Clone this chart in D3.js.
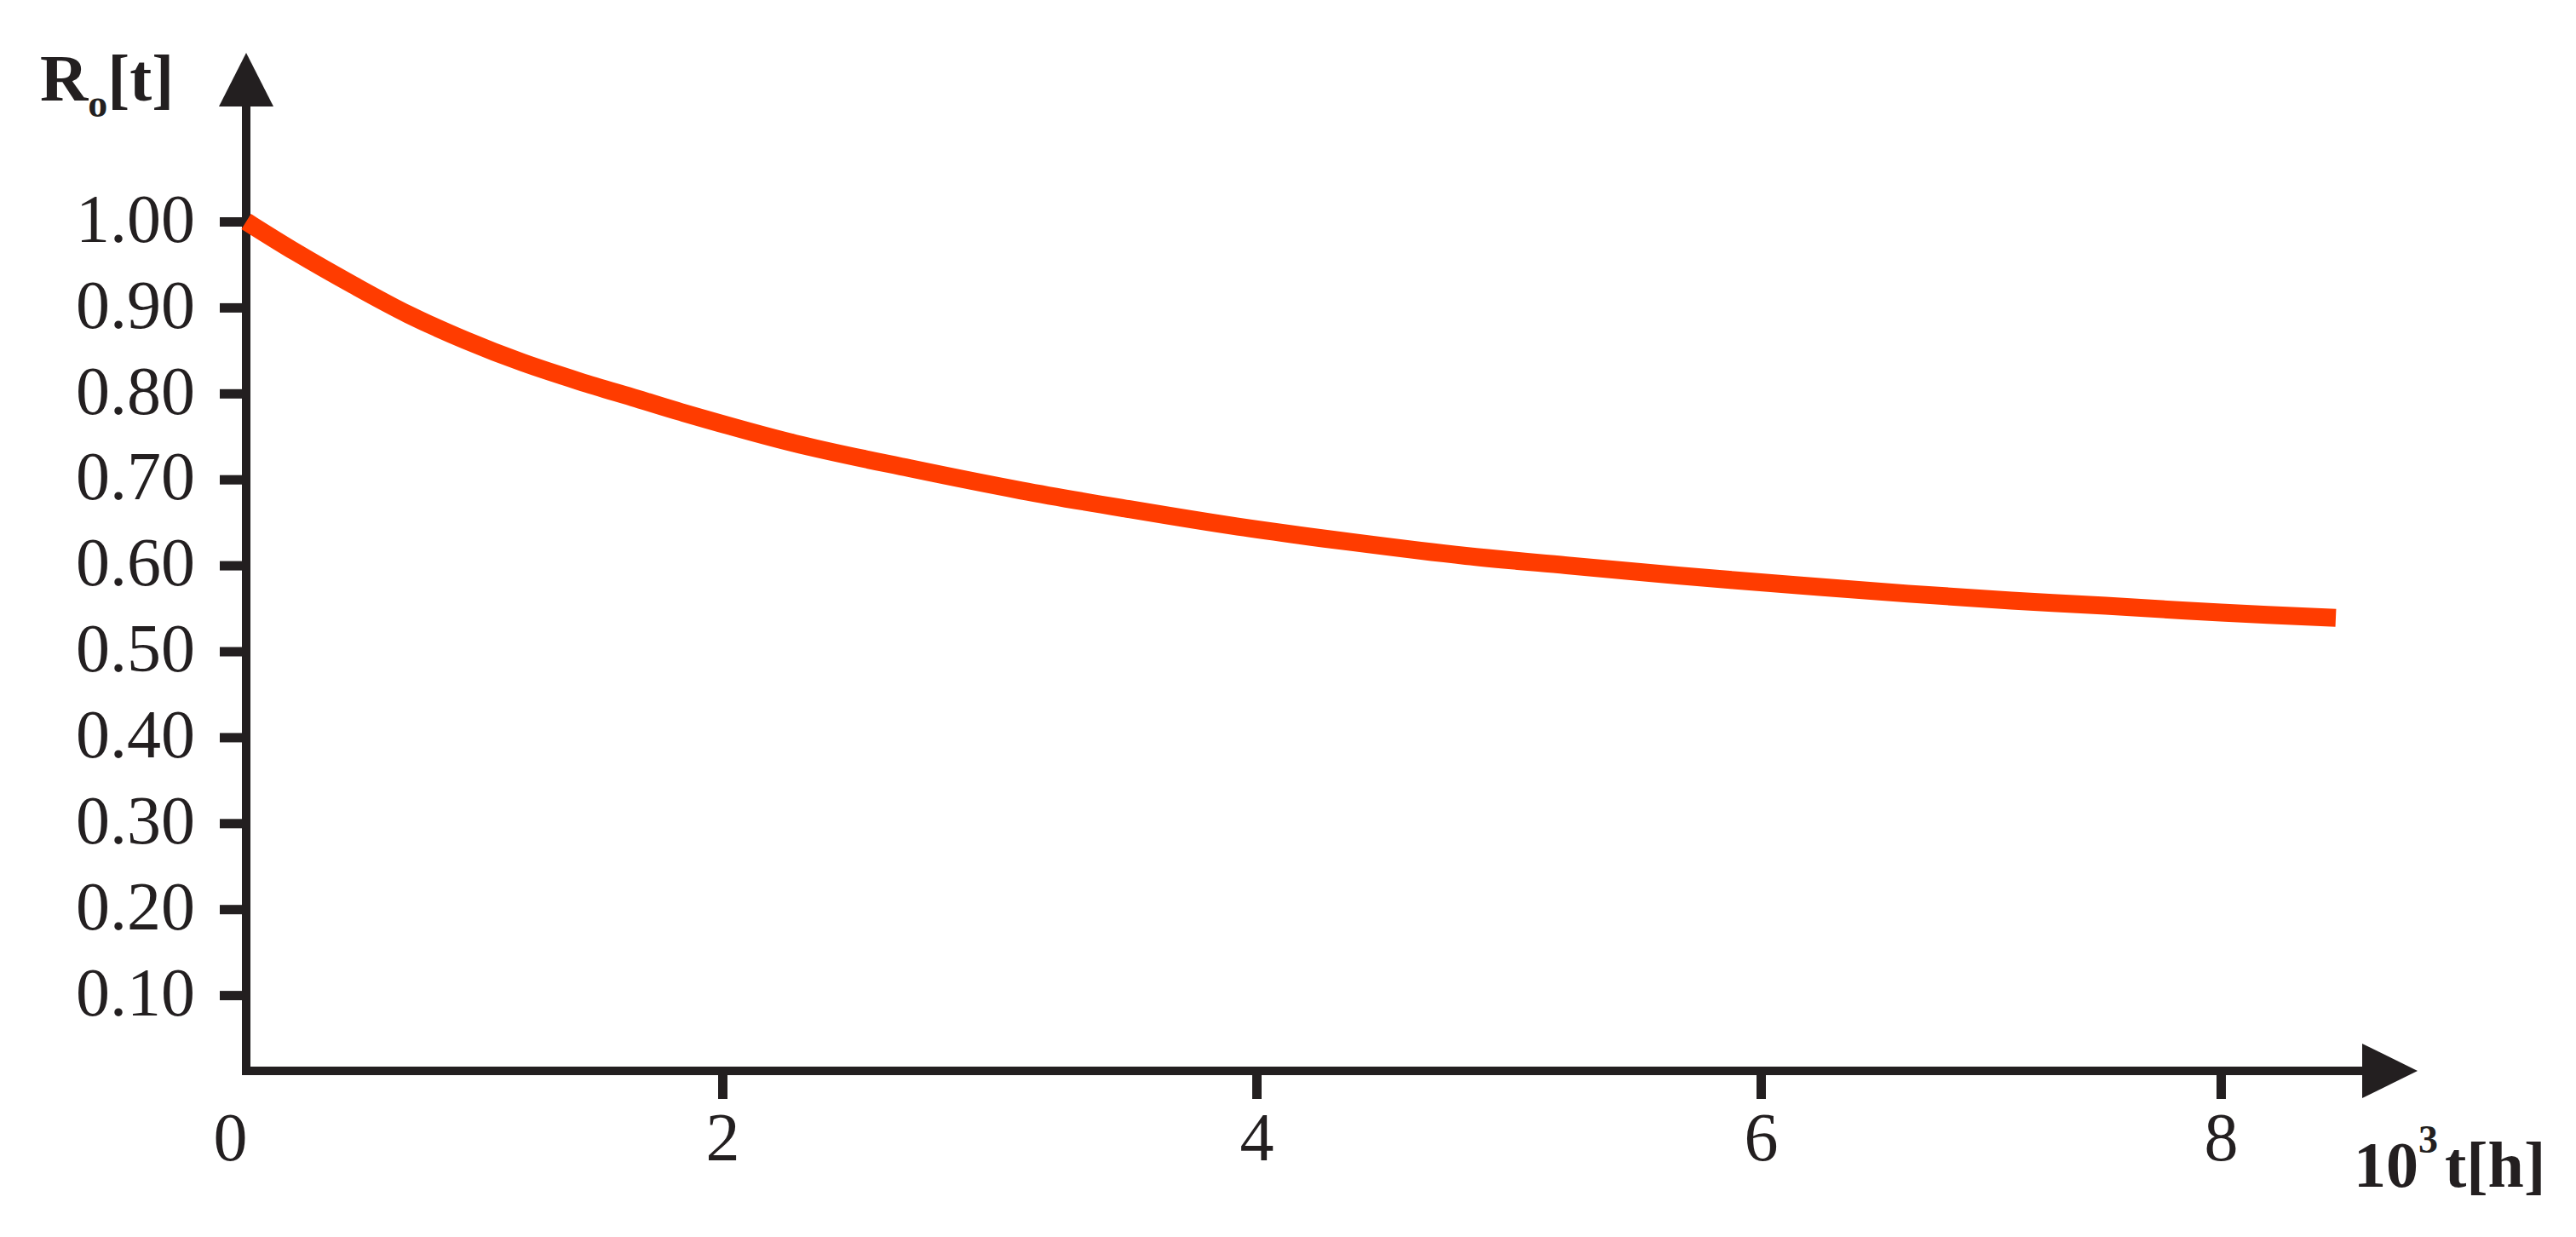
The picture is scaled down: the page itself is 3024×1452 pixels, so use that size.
<!DOCTYPE html>
<html>
<head>
<meta charset="utf-8">
<script src="https://cdn.jsdelivr.net/npm/d3@7"></script>
<style>
  html, body { margin: 0; padding: 0; background: #ffffff; }
  svg { display: block; }
</style>
</head>
<body>
<script>
// ---- data ----
const tValues = [0, 0.21, 0.45, 0.68, 0.92, 1.16, 1.40, 1.64, 1.83, 2.27, 2.70, 3.12,
                 3.51, 3.93, 4.38, 4.83, 5.23, 5.68, 6.15, 6.64, 7.09, 7.50, 8.00, 8.50];
const rValues = [1.000, 0.964, 0.926, 0.892, 0.862, 0.836, 0.814, 0.794, 0.778, 0.742, 0.713, 0.687,
                 0.666, 0.645, 0.627, 0.611, 0.600, 0.588, 0.577, 0.567, 0.559, 0.553, 0.545, 0.539];
const xTickValues = [0, 2, 4, 6, 8];
const yTickValues = [0.1, 0.2, 0.3, 0.4, 0.5, 0.6, 0.7, 0.8, 0.9, 1.0];
const yTitleMain = "R", yTitleSub = "o", yTitleTail = "[t]";
const xTitleBase = "10", xTitleSup = "3", xTitleTail = "t[h]";

// ---- layout ----
const W = 3024, H = 1452;
const ink = "#231f20";
const curveColor = "#ff3c00";
const fontFam = "'Liberation Serif', 'Times New Roman', serif";

const svg = d3.select("body").append("svg").attr("width", W).attr("height", H);
svg.append("rect").attr("width", W).attr("height", H).attr("fill", "#fff");

// hand-drawn (non-uniform) time axis of the original figure
const x = d3.scaleLinear().domain([0, 2, 4, 6, 8]).range([289, 848, 1475, 2067, 2607]);
const y = d3.scaleLinear().domain([0, 1]).range([1269, 260]);

const originX = x(0), originY = 1257;
const yTop = 125, yArrowTip = 62;
const xEnd = 2773, xArrowTip = 2838;

// axis lines
svg.append("path")
  .attr("d", `M${originX},${yTop} V${originY} H${xEnd}`)
  .attr("fill", "none").attr("stroke", ink).attr("stroke-width", 10)
  .attr("stroke-linejoin", "miter").attr("stroke-linecap", "butt");
// arrowheads
svg.append("path")
  .attr("d", `M${originX},${yArrowTip} L${originX - 32},${yTop} L${originX + 32},${yTop} Z`)
  .attr("fill", ink);
svg.append("path")
  .attr("d", `M${xArrowTip},${originY} L${xEnd},${originY - 32} L${xEnd},${originY + 32} Z`)
  .attr("fill", ink);

// y axis ticks
const yAxis = d3.axisLeft(y).tickValues(yTickValues).tickSize(31).tickPadding(29)
  .tickFormat(d3.format(".2f"));
const gy = svg.append("g").attr("transform", `translate(${originX},0)`).call(yAxis);
gy.select(".domain").remove();
gy.selectAll(".tick line").attr("stroke", ink).attr("stroke-width", 11);
gy.selectAll(".tick text").attr("fill", ink).attr("font-family", fontFam)
  .attr("font-size", 80).attr("dy", "0.29em");

// x axis ticks
const xAxis = d3.axisBottom(x).tickValues(xTickValues).tickSize(33).tickPadding(15)
  .tickFormat(d3.format("d"));
const gx = svg.append("g").attr("transform", `translate(0,${originY})`).call(xAxis);
gx.select(".domain").remove();
gx.selectAll(".tick line").attr("stroke", ink).attr("stroke-width", 11)
  .attr("display", d => d === 0 ? "none" : null);
gx.selectAll(".tick text").attr("fill", ink).attr("font-family", fontFam)
  .attr("font-size", 80).attr("dx", d => d === 0 ? -19 : 0);

// curve
const pts = tValues.map((t, i) => [t, rValues[i]]);
svg.append("path")
  .datum(pts)
  .attr("d", d3.line().x(d => x(d[0])).y(d => y(d[1])).curve(d3.curveCatmullRom.alpha(0.5)))
  .attr("fill", "none").attr("stroke", curveColor).attr("stroke-width", 21)
  .attr("stroke-linecap", "butt");

// y title
const yt = svg.append("text").attr("x", 47).attr("y", 118)
  .attr("font-family", fontFam).attr("font-weight", "bold").attr("font-size", 78).attr("fill", ink);
yt.append("tspan").text(yTitleMain);
yt.append("tspan").attr("font-size", 46).attr("dy", 19).text(yTitleSub);
yt.append("tspan").attr("dy", -19).text(yTitleTail);

// x title
const xt = svg.append("text").attr("x", 2763).attr("y", 1393)
  .attr("font-family", fontFam).attr("font-weight", "bold").attr("font-size", 76).attr("fill", ink);
xt.append("tspan").text(xTitleBase);
xt.append("tspan").attr("font-size", 46).attr("dy", -40).text(xTitleSup);
xt.append("tspan").attr("dy", 40).attr("dx", 8).text(xTitleTail);
</script>
</body>
</html>
